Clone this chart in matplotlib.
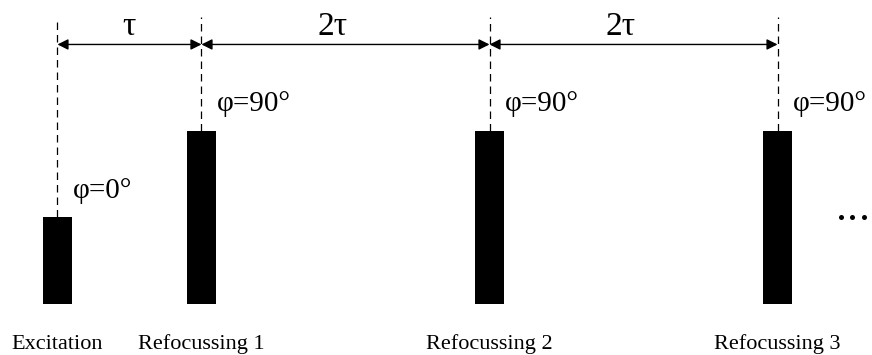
import matplotlib
matplotlib.use("Agg")
import matplotlib.pyplot as plt

# Pulse sequence, times in units of tau, heights relative to the excitation pulse
pulse_times = [0, 1, 3, 5]
pulse_heights = [1, 2, 2, 2]
pulse_phases = ['φ=0°', 'φ=90°', 'φ=90°', 'φ=90°']
pulse_names = ['Excitation', 'Refocussing 1', 'Refocussing 2', 'Refocussing 3']
interval_labels = ['τ', '2τ', '2τ']

plt.rcParams['font.family'] = ['Liberation Serif', 'DejaVu Serif']

fig = plt.figure(figsize=(8.72, 3.55), dpi=100)
ax = fig.add_axes([0, 0, 1, 1])
ax.set_xlim(-0.399, 5.656)
ax.set_ylim(-0.59, 3.514)
ax.axis('off')

bar_w = 0.2
line_top = 3.32
arrow_y = 3.0

# pulses
ax.bar(pulse_times, pulse_heights, width=bar_w, color='black', align='center')

for t, h, ph, name in zip(pulse_times, pulse_heights, pulse_phases, pulse_names):
    # dashed guide line from the top down to the pulse
    ax.plot([t, t], [h, line_top], color='black', lw=0.9, ls=(0, (6, 4)))
    ax.text(t + 0.11, h + 0.23, ph, fontsize=21, ha='left', va='baseline')
    ax.text(t, -0.52, name, fontsize=16, ha='center', va='baseline')

# interval arrows between pulses
for i, lab in enumerate(interval_labels):
    t0, t1 = pulse_times[i], pulse_times[i + 1]
    ax.annotate('', xy=(t1, arrow_y), xytext=(t0, arrow_y),
                arrowprops=dict(arrowstyle='<|-|>,head_length=0.4,head_width=0.2',
                                color='black', lw=1, mutation_scale=16,
                                shrinkA=0, shrinkB=0))
    off = 0 if lab == 'τ' else -0.09
    ax.text((t0 + t1) / 2 + off, 3.11, lab, fontsize=24, ha='center', va='baseline')

# continuation dots
dot_x = [5.44, 5.52, 5.60]
ax.plot(dot_x, [1.0] * 3, 'o', color='black', markersize=3.6, markeredgewidth=0)

fig.savefig('out.png', dpi=100)
